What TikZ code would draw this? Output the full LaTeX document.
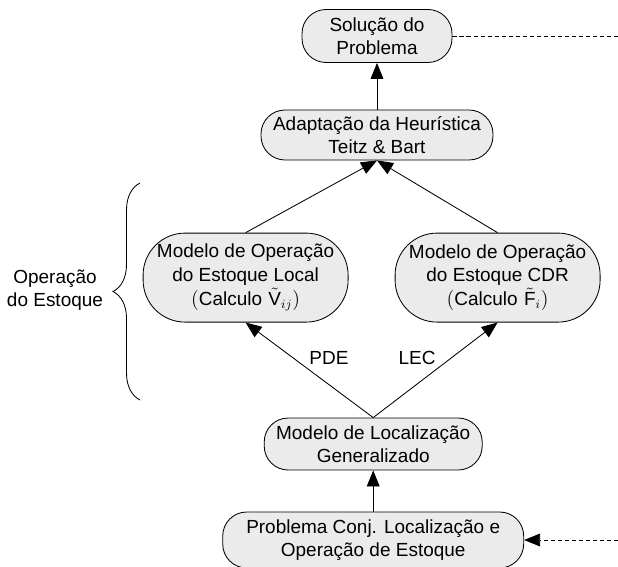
\documentclass[tikz,border=0pt]{standalone}
\usepackage{fontspec}
\setmainfont{Liberation Sans}
\usepackage{tikz}
\usetikzlibrary{shapes.geometric, arrows.meta, decorations.pathreplacing}
\definecolor{boxgray}{RGB}{235,235,235}
\newcommand{\boxfont}{\fontsize{13.5}{16.4}\selectfont}
\tikzstyle{stage} = [rectangle, draw, line width=0.6pt, rounded corners=0.6cm, text centered, align=center, fill=boxgray, font=\boxfont]
\tikzstyle{model} = [stage, rounded corners=1.05cm, minimum width=5.125cm, minimum height=2.225cm]
\tikzstyle{tag} = [text centered, align=center, font=\boxfont]
\tikzstyle{arrow} = [line width=0.6pt,-{Triangle[length=0.4cm,width=0.32cm]}]
\tikzstyle{dashline} = [line width=0.6pt, dash pattern=on 3pt off 2pt]
\tikzstyle{brace} = [line width=0.6pt, decorate, decoration={brace, amplitude=0.675cm}]

\begin{document}
\begin{tikzpicture}
    \useasboundingbox (0,0) rectangle (15.45,-14.15);
    \node [stage, minimum width=3.75cm, minimum height=1.325cm] at (9.425,-0.9) (sol) {Solução do\\Problema};
    \node [stage, minimum width=5.8cm, minimum height=1.25cm] at (9.425,-3.375) (adapt) {Adaptação da Heurística\\Teitz \& Bart};
    \node [model] at (6.14,-6.94) (local) {Modelo de Operação\\do Estoque Local\\[1pt]$\Big($Calculo\,\,$\tilde{\mathrm{V}}_{ij}\Big)$};
    \node [model] at (12.44,-6.94) (cdr) {Modelo de Operação\\do Estoque CDR\\[1pt]$\Big($Calculo\,\,$\tilde{\mathrm{F}}_{i}\Big)$};
    \node [stage, minimum width=5.45cm, minimum height=1.3cm] at (9.33,-11.1) (gen) {Modelo de Localização\\Generalizado};
    \node [stage, minimum width=7.525cm, minimum height=1.4cm] at (9.33,-13.5) (prob) {Problema Conj. Localização e\\Operação de Estoque};
    \node [tag] at (8.225,-8.95) (pde) {PDE};
    \node [tag] at (10.425,-8.95) (lec) {LEC};
    \node [tag] at (1.375,-7.25) (opest) {Operação\\do Estoque};
    \coordinate (solend) at (15.45,-0.9);
    \coordinate (probend) at (15.45,-13.5);
    \coordinate (bracetop) at (3.5,-4.575);
    \coordinate (bracebot) at (3.5,-10.0);
    \draw [arrow] (prob) -- (gen);
    \draw [arrow] (gen.north) -- (local.south);
    \draw [arrow] (gen.north) -- (cdr.south);
    \draw [arrow] (local.north) -- (adapt.south);
    \draw [arrow] (cdr.north) -- (adapt.south);
    \draw [arrow] (adapt) -- (sol);
    \draw [dashline] (sol) -- (solend);
    \draw [arrow, dashline] (probend) -- (prob);
    \draw [brace] (bracebot) -- (bracetop);
\end{tikzpicture}
\end{document}
